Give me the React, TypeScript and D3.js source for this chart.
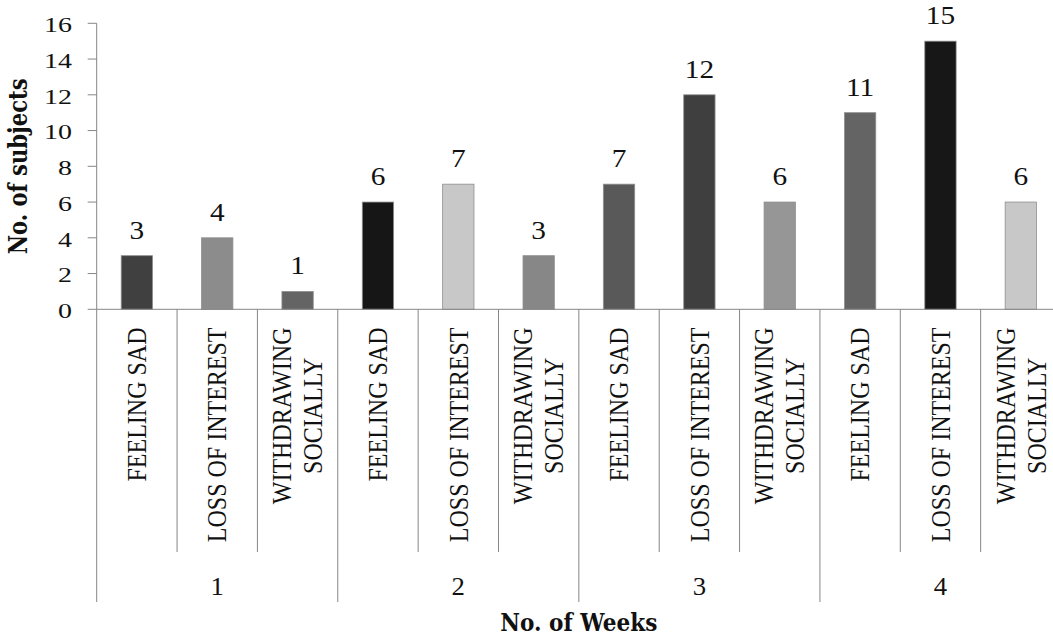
import React, { useEffect, useRef } from "react";
import * as d3 from "d3";

// Symptom categories repeated within each week group
const weeks = ["1", "2", "3", "4"];
const symptoms = ["FEELING SAD", "LOSS OF INTEREST", "WITHDRAWING SOCIALLY"];
const symptomLines = [["FEELING SAD"], ["LOSS OF INTEREST"], ["WITHDRAWING", "SOCIALLY"]];

// Number of subjects per symptom, one array per week
const week1 = [3, 4, 1];
const week2 = [6, 7, 3];
const week3 = [7, 12, 6];
const week4 = [11, 15, 6];
const weekValues = [week1, week2, week3, week4];

// Grey shade of each bar, in drawing order
const barShades = [
  "#404040", "#8c8c8c", "#646464",
  "#161616", "#c8c8c8", "#878787",
  "#595959", "#3f3f3f", "#969696",
  "#646464", "#171717", "#c8c8c8",
];

const yTicks = [0, 2, 4, 6, 8, 10, 12, 14, 16];

const W = 1053;
const H = 635;

export default function App() {
  const ref = useRef<SVGSVGElement | null>(null);

  useEffect(() => {
    const svg = d3.select(ref.current);
    svg.selectAll("*").remove();

    const rows = weeks.flatMap((wk, wi) =>
      symptoms.map((s, si) => ({
        key: `${wk}-${si}`,
        week: wk,
        weekIndex: wi,
        symptomIndex: si,
        value: weekValues[wi][si],
      }))
    );

    const left = 96.7;
    const right = 1061; // the category axis runs past the right edge
    const y0 = 309.3;
    const yTop = 23.3;

    const x = d3
      .scaleBand<string>()
      .domain(rows.map((r) => r.key))
      .range([left, right])
      .paddingInner(0.61)
      .paddingOuter(0.305);
    const step = x.step();

    const y = d3.scaleLinear().domain([0, 16]).range([y0, yTop]);

    const axisColor = "#868686";
    const serif = "Liberation Serif, DejaVu Serif, serif";
    const boldSerif = "DejaVu Serif, serif";

    // Bars
    svg
      .append("g")
      .selectAll("rect")
      .data(rows)
      .join("rect")
      .attr("x", (d) => x(d.key)!)
      .attr("y", (d) => y(d.value))
      .attr("width", x.bandwidth())
      .attr("height", (d) => y(0) - y(d.value))
      .attr("fill", (_d, i) => barShades[i])
      .attr("stroke", "#8f8f8f")
      .attr("stroke-width", 0.8);

    // Value labels above bars
    svg
      .append("g")
      .selectAll("text")
      .data(rows)
      .join("text")
      .attr(
        "transform",
        (d) => `translate(${x(d.key)! + x.bandwidth() / 2},${y(d.value) - 17}) scale(1.15,1)`
      )
      .attr("text-anchor", "middle")
      .style("font-family", serif)
      .attr("font-size", 25.5)
      .attr("fill", "#111")
      .text((d) => String(d.value));

    // Y axis line and ticks
    const yAxis = svg.append("g").attr("stroke", axisColor).attr("stroke-width", 1);
    yAxis
      .append("line")
      .attr("x1", left)
      .attr("x2", left)
      .attr("y1", y(16))
      .attr("y2", y0);
    yAxis
      .selectAll("line.tick")
      .data(yTicks)
      .join("line")
      .attr("class", "tick")
      .attr("x1", left - 9)
      .attr("x2", left)
      .attr("y1", (d) => y(d))
      .attr("y2", (d) => y(d));

    svg
      .append("g")
      .selectAll("text")
      .data(yTicks)
      .join("text")
      .attr("transform", (d) => `translate(72,${y(d) + 8.8}) scale(1.27,1)`)
      .attr("text-anchor", "end")
      .style("font-family", serif)
      .attr("font-size", 22)
      .attr("fill", "#111")
      .text((d) => String(d));

    // X axis baseline
    svg
      .append("line")
      .attr("x1", left)
      .attr("x2", right)
      .attr("y1", y0)
      .attr("y2", y0)
      .attr("stroke", axisColor)
      .attr("stroke-width", 1);

    // Category and group separators below the baseline
    const bounds = d3.range(rows.length + 1);
    svg
      .append("g")
      .selectAll("line")
      .data(bounds)
      .join("line")
      .attr("x1", (i) => left + i * step)
      .attr("x2", (i) => left + i * step)
      .attr("y1", y0)
      .attr("y2", (i) => (i % 3 === 0 ? 602 : 552))
      .attr("stroke", axisColor)
      .attr("stroke-width", 1);

    // Rotated category labels: block aligned to the top, lines centred in the block
    const sx = 1.16;
    const catSize = 24;
    const capH = 0.662 * catSize;
    const lineGap = 31 / sx;
    const labelTop = 327.5;
    const catG = svg.append("g");
    rows.forEach((r) => {
      const lines = symptomLines[r.symptomIndex];
      const cx = x(r.key)! + x.bandwidth() / 2;
      const g = catG.append("g");
      const texts = lines.map((ln, li) =>
        g
          .append("text")
          .style("font-family", serif)
          .attr("font-size", catSize)
          .attr("fill", "#111")
          .attr("text-anchor", "middle")
          .attr("x", 0)
          .attr("y", (li - (lines.length - 1) / 2) * lineGap + capH / 2)
          .text(ln)
      );
      const maxLen = d3.max(texts, (t) => (t.node() as SVGTextElement).getComputedTextLength()) || 0;
      g.attr("transform", `translate(${cx},${labelTop + maxLen / 2}) scale(${sx},1) rotate(-90)`);
    });

    // Week labels
    svg
      .append("g")
      .selectAll("text")
      .data(weeks)
      .join("text")
      .attr("transform", (_d, i) => `translate(${left + (i * 3 + 1.5) * step},595) scale(1.03,1)`)
      .attr("text-anchor", "middle")
      .style("font-family", serif)
      .attr("font-size", 26)
      .attr("fill", "#111")
      .text((d) => d);

    // Axis titles
    svg
      .append("text")
      .attr("transform", `translate(27,${(yTop + y0) / 2}) scale(1.16,1) rotate(-90)`)
      .attr("text-anchor", "middle")
      .style("font-family", boldSerif)
      .attr("font-weight", "bold")
      .attr("font-size", 22)
      .attr("textLength", 176)
      .attr("lengthAdjust", "spacingAndGlyphs")
      .attr("fill", "#111")
      .text("No. of subjects");

    svg
      .append("text")
      .attr("x", (left + right) / 2)
      .attr("y", 631)
      .attr("text-anchor", "middle")
      .style("font-family", boldSerif)
      .attr("font-weight", "bold")
      .attr("font-size", 24)
      .attr("textLength", 157)
      .attr("lengthAdjust", "spacingAndGlyphs")
      .attr("fill", "#111")
      .text("No. of Weeks");
  }, []);

  return (
    <svg
      ref={ref}
      width={W}
      height={H}
      viewBox={`0 0 ${W} ${H}`}
      style={{ position: "absolute", left: 0, top: 0, background: "#fff" }}
    />
  );
}
